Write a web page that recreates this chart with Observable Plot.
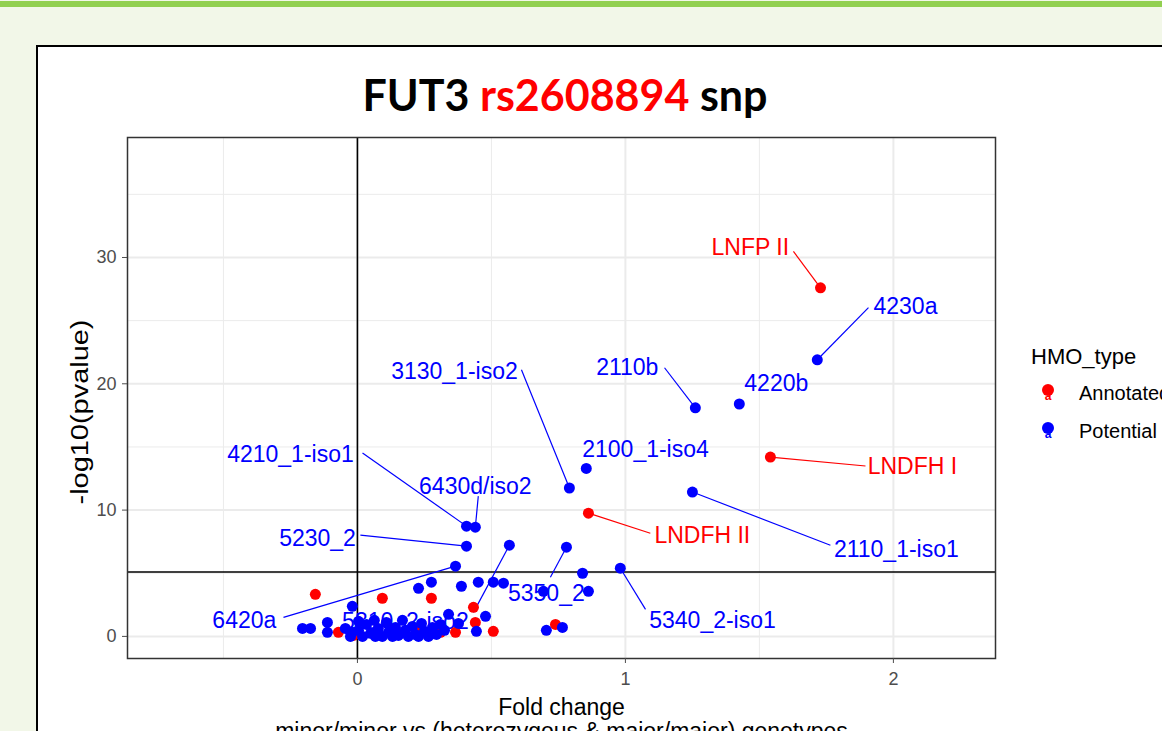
<!DOCTYPE html>
<html><head><meta charset="utf-8">
<script src="https://cdn.jsdelivr.net/npm/d3@7"></script>
<script src="https://cdn.jsdelivr.net/npm/@observablehq/plot@0.6"></script>
<style>
html,body{margin:0;padding:0;width:1162px;height:731px;overflow:hidden;background:#f2f7e8;font-family:"Liberation Sans",Arial,sans-serif;}
#bar{position:absolute;left:0;top:1px;width:1162px;height:6px;background:#92d050;}
#box{position:absolute;left:36px;top:45px;width:1160px;height:720px;background:#fff;border:2px solid #000;box-sizing:border-box;}
#title{position:absolute;left:265px;width:600px;top:70px;line-height:50px;text-align:center;font-family:Lato,"Open Sans",sans-serif;font-weight:bold;font-size:43px;color:#000;white-space:nowrap;}
#chart{position:absolute;left:40px;top:130px;}
#legend{position:absolute;left:1031px;top:340px;font-family:"Liberation Sans",Arial,sans-serif;color:#000;}
#legend .ttl{font-size:22px;line-height:34px;}
#legend .row{position:relative;height:38px;font-size:20px;line-height:38px;white-space:nowrap;}
#legend .row svg{position:absolute;left:5px;top:6px;}
#legend .row span{position:absolute;left:48px;}
</style></head>
<body>
<div id="bar"></div>
<div id="box"></div>
<div id="title">FUT3 <span style="color:#ff0000">rs2608894</span> snp</div>
<div id="chart"></div>
<div id="legend"></div>
<script>
// ---- data ----
const typeNames = ["Annotated", "Potential"];
const typeColors = ["#ff0000", "#0000ff"];

const annotatedX = [1.728, 1.541, 0.862, -0.157, 0.093, 0.276, 0.433, 0.440, -0.071, -0.015, 0.310, 0.366, 0.507, 0.739, 0.153, 0.235];
const annotatedY = [27.6, 14.2, 9.76, 3.33, 3.02, 3.02, 2.30, 1.11, 0.32, 0.08, 0.32, 0.32, 0.40, 0.95, 0.24, 0.48];

const potentialX = [1.716, 1.261, 1.425, 0.854, 0.791, 1.250, 0.407, 0.440, 0.407, 0.567, 0.780, 0.366, 0.981,
  0.840, 0.862, 0.694, 0.276, 0.451, 0.507, 0.545, 0.228, 0.388, -0.019, 0.340, 0.478, 0.377, 0.444, 0.705, 0.765,
  -0.205, -0.175, -0.112, -0.112,
  -0.045, -0.026, 0.004, 0.019, 0.034, 0.049, 0.067, 0.078, 0.093, 0.108, 0.116, 0.131, 0.142, 0.153, 0.168, 0.179,
  0.190, 0.205, 0.216, 0.228, 0.239, 0.250, 0.265, 0.280, 0.295, 0.310, 0.325, 0.004, 0.063, -0.019];
const potentialY = [21.9, 18.1, 18.4, 13.3, 11.75, 11.43, 8.73, 8.65, 7.14, 7.22, 7.06, 5.56, 5.40,
  5.0, 3.57, 3.57, 4.29, 4.29, 4.29, 4.21, 3.81, 3.97, 2.38, 1.75, 1.59, 1.03, 0.40, 0.48, 0.71,
  0.63, 0.63, 1.11, 0.32,
  0.63, 0.0, 0.48, 0.0, 0.95, 0.24, 0.0, 0.63, 0.0, 1.11, 0.32, 0.0, 0.71, 0.08, 1.27, 0.48,
  0.0, 0.79, 0.16, 0.0, 1.03, 0.40, 0.0, 0.71, 0.16, 0.95, 0.48, 1.19, 1.27, 0.32];

// repelled labels: text, type, label position, segment start, point
const labelText = ["LNFP II", "4230a", "2110b", "4220b", "2100_1-iso4", "LNDFH I", "2110_1-iso1", "LNDFH II",
  "3130_1-iso2", "4210_1-iso1", "6430d/iso2", "5230_2", "6420a", "5350_2", "5340_2-iso1", "5310_2-iso2"];
const labelType = [0, 1, 1, 1, 1, 0, 1, 0, 1, 1, 1, 1, 1, 1, 1, 1];
const labelX = [1.466, 2.045, 1.007, 1.563, 1.075, 2.071, 2.011, 1.287, 0.362, -0.250, 0.440, -0.149, -0.422, 0.705, 1.325, 0.179];
const labelY = [30.79, 26.11, 21.27, 20.0, 14.76, 13.41, 6.90, 7.94, 20.95, 14.37, 11.83, 7.78, 1.27, 3.41, 1.27, 1.19];
const segX = [1.627, 1.907, 1.146, null, null, 1.896, 1.765, 1.093, 0.612, 0.019, 0.451, 0.011, -0.276, 0.720, 1.075, 0.433];
const segY = [30.48, 26.03, 21.27, null, null, 13.49, 7.22, 8.17, 21.11, 14.52, 11.11, 8.02, 1.51, 4.68, 2.14, 1.90];
const pointX = [1.728, 1.716, 1.261, 1.425, 0.854, 1.541, 1.250, 0.862, 0.791, 0.407, 0.440, 0.407, 0.366, 0.780, 0.981, 0.567];
const pointY = [27.6, 21.9, 18.1, 18.4, 13.3, 14.2, 11.43, 9.76, 11.75, 8.73, 8.65, 7.14, 5.56, 7.06, 5.40, 7.22];

const xTicks = [0, 1, 2];
const xMinor = [-0.5, 0.5, 1.5];
const yTicks = [0, 10, 20, 30];
const yMinor = [5, 15, 25, 35];
const vLine = 0;
const hLine = 5.1;

// ---- tables ----
const points = [
  ...annotatedX.map((x, i) => ({x, y: annotatedY[i], type: 0})),
  ...potentialX.map((x, i) => ({x, y: potentialY[i], type: 1}))
];
const labels = labelText.map((t, i) => ({text: t, type: labelType[i], lx: labelX[i], ly: labelY[i],
  sx: segX[i], sy: segY[i], px: pointX[i], py: pointY[i]}));
const segs = labels.filter(d => d.sx !== null);
const col = d => typeColors[d.type];

const plot = Plot.plot({
  width: 960, height: 601,
  marginLeft: 87, marginRight: 5, marginTop: 7, marginBottom: 73,
  x: {domain: [-0.858, 2.381]},
  y: {domain: [-1.75, 39.5]},
  style: {fontFamily: "Liberation Sans, Arial, sans-serif", background: "transparent", overflow: "visible"},
  marks: [
    Plot.gridX(xMinor, {stroke: "#ebebeb", strokeOpacity: 1, strokeWidth: 1}),
    Plot.gridY(yMinor, {stroke: "#ebebeb", strokeOpacity: 1, strokeWidth: 1}),
    Plot.gridX(xTicks, {stroke: "#ebebeb", strokeOpacity: 1, strokeWidth: 2}),
    Plot.gridY(yTicks, {stroke: "#ebebeb", strokeOpacity: 1, strokeWidth: 2}),
    Plot.ruleX([vLine], {stroke: "#000", strokeWidth: 1.6, clip: true}),
    Plot.ruleY([hLine], {stroke: "#000", strokeWidth: 1.6, clip: true}),
    Plot.link(segs, {x1: "sx", y1: "sy", x2: "px", y2: "py", stroke: col, strokeWidth: 1.2, clip: true}),
    Plot.text(labels, {x: "lx", y: "ly", text: "text", fill: col, fontSize: 23, clip: true}),
    Plot.dot(points, {x: "x", y: "y", fill: col, r: 5.5, clip: true}),
    Plot.frame({stroke: "#333", strokeWidth: 1.5}),
    Plot.axisX(xTicks, {tickSize: 5, tickPadding: 9, fontSize: 18, color: "#4d4d4d", label: null, tickFormat: d3.format("d")}),
    Plot.axisY(yTicks, {tickSize: 5, tickPadding: 6, fontSize: 18, color: "#4d4d4d", label: null, tickFormat: d3.format("d")}),
    Plot.text(["Fold change"], {frameAnchor: "bottom", lineAnchor: "middle", dy: 49, fontSize: 23, fill: "#000"}),
    Plot.text(["minor/minor vs (heterozygous & major/major) genotypes"], {frameAnchor: "bottom", lineAnchor: "middle", dy: 73, fontSize: 23, fill: "#000"}),
    Plot.text(["-log10(pvalue)"], {frameAnchor: "left", textAnchor: "middle", lineAnchor: "middle", dx: -47, dy: 14, rotate: -90, fontSize: 23, fill: "#000"})
  ]
});
document.getElementById("chart").appendChild(plot);
d3.select(plot).selectAll("text").filter(function() { return this.textContent === "-log10(pvalue)"; })
  .attr("textLength", 185).attr("lengthAdjust", "spacingAndGlyphs");

// legend
const leg = d3.select("#legend");
leg.append("div").attr("class", "ttl").text("HMO_type");
typeNames.forEach((n, i) => {
  const row = leg.append("div").attr("class", "row");
  const s = row.append("svg").attr("width", 26).attr("height", 26);
  s.append("circle").attr("cx", 12).attr("cy", 10).attr("r", 6).attr("fill", typeColors[i]);
  s.append("text").attr("x", 12).attr("y", 20).attr("text-anchor", "middle").attr("font-size", 12)
    .attr("font-weight", "bold").attr("fill", typeColors[i]).attr("font-family", "Liberation Sans, Arial").text("a");
  row.append("span").text(n);
});
</script>
</body></html>
